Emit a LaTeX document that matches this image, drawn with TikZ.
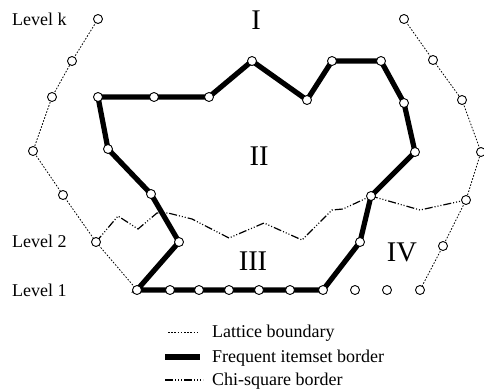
\documentclass[tikz,border=0pt]{standalone}
\usepackage{fontspec}
\setmainfont{Liberation Serif}
\begin{document}
\begin{tikzpicture}[x=1pt,y=-1pt,
  vtx/.style={circle,draw=black,fill=white,line width=0.9pt,minimum size=9pt,inner sep=0pt},
  lattice/.style={line width=0.8pt,dash pattern=on 1.6pt off 1.6pt},
  freq/.style={line width=5.2pt,line join=miter},
  chi/.style={line width=1.2pt,dash pattern=on 8pt off 2pt on 1pt off 2pt on 1pt off 2pt on 1pt off 2pt},
  lvl/.style={anchor=base west,inner sep=0pt,font=\fontsize{18}{20}\selectfont},
  roman/.style={anchor=base,inner sep=0pt,font=\fontsize{28.5}{30}\selectfont},
  legtxt/.style={anchor=base west,inner sep=0pt,font=\fontsize{18}{20}\selectfont}]
\useasboundingbox (0,0) rectangle (484,389);
% coordinates of vertices
\coordinate (L1) at (98,19);
\coordinate (L2) at (72,61);
\coordinate (L3) at (52,97);
\coordinate (L4) at (33,151);
\coordinate (L5) at (63,195);
\coordinate (L6) at (96,242);
\coordinate (B1) at (137,290);
\coordinate (B2) at (170,290);
\coordinate (B3) at (199,290);
\coordinate (B4) at (229,290);
\coordinate (B5) at (259,290);
\coordinate (B6) at (290,290);
\coordinate (B7) at (323,290);
\coordinate (X1) at (355,290);
\coordinate (X2) at (387,290);
\coordinate (R1) at (404,19);
\coordinate (R2) at (433,60);
\coordinate (R3) at (462,100);
\coordinate (R4) at (481,152);
\coordinate (R5) at (466,200);
\coordinate (R6) at (443,246);
\coordinate (R7) at (420,290);
\coordinate (F) at (360,242);
\coordinate (G) at (371,196);
\coordinate (H) at (415,152);
\coordinate (J) at (404,103);
\coordinate (K) at (381,61);
\coordinate (M) at (332,61);
\coordinate (N) at (307,100);
\coordinate (P) at (252,61);
\coordinate (Q) at (209,97);
\coordinate (S) at (154,97);
\coordinate (T) at (98,97);
\coordinate (U) at (108,149);
\coordinate (V) at (151,194);
\coordinate (W) at (179,242);
% chi-square intermediate points
\coordinate (c1) at (118,216);
\coordinate (c2) at (138,229);
\coordinate (c3) at (157,213);
\coordinate (c4) at (168,213);
\coordinate (c5) at (192,219);
\coordinate (c6) at (229,238);
\coordinate (c7) at (264,223);
\coordinate (c8) at (302,240);
\coordinate (c9) at (332,210);
\coordinate (c10) at (343,209);
\coordinate (c11) at (420,210);
% lattice boundary
\draw[lattice] (L1) -- (L2) -- (L3) -- (L4) -- (L5) -- (L6) -- (B1);
\draw[lattice] (R1) -- (R2) -- (R3) -- (R4) -- (R5) -- (R6) -- (R7);
% chi-square border
\draw[chi] (L6) -- (c1) -- (c2) -- (c3) -- (c4) -- (c5) -- (c6) -- (c7) -- (c8) -- (c9) -- (c10) -- (G) -- (c11) -- (R5);
% frequent itemset border
\draw[freq] (B1) -- (B7) -- (F) -- (G) -- (H) -- (J) -- (K) -- (M) -- (N) -- (P) -- (Q) -- (T) -- (U) -- (V) -- (W) -- cycle;
% vertices
\foreach \p in {L1,L2,L3,L4,L5,L6,B1,B2,B3,B4,B5,B6,B7,X1,X2,R1,R2,R3,R4,R5,R6,R7,F,G,H,J,K,M,N,P,Q,S,T,U,V,W}
  \node[vtx] (n\p) at (\p) {};
% level labels
\node[lvl] (lk) at (12,25) {Level k};
\node[lvl] (l2) at (12,247) {Level 2};
\node[lvl] (l1) at (12,296) {Level 1};
% region labels
\node[roman] (rI) at (256,29) {I};
\node[roman] (rII) at (259,165.5) {II};
\node[roman] (rIII) at (253,270.5) {III};
\node[roman] (rIV) at (402,261.5) {IV};
% legend
\coordinate (a1) at (168,332); \coordinate (a2) at (197,332);
\coordinate (b1) at (165,357); \coordinate (b2) at (200,357);
\coordinate (d1) at (165,380); \coordinate (d2) at (203,380);
\draw[lattice] (a1) -- (a2);
\draw[line width=5.2pt] (b1) -- (b2);
\draw[chi] (d1) -- (d2);
\node[legtxt] (t1) at (212,337) {Lattice boundary};
\node[legtxt] (t2) at (212,362) {Frequent itemset border};
\node[legtxt] (t3) at (212,385) {Chi-square border};
\end{tikzpicture}
\end{document}
